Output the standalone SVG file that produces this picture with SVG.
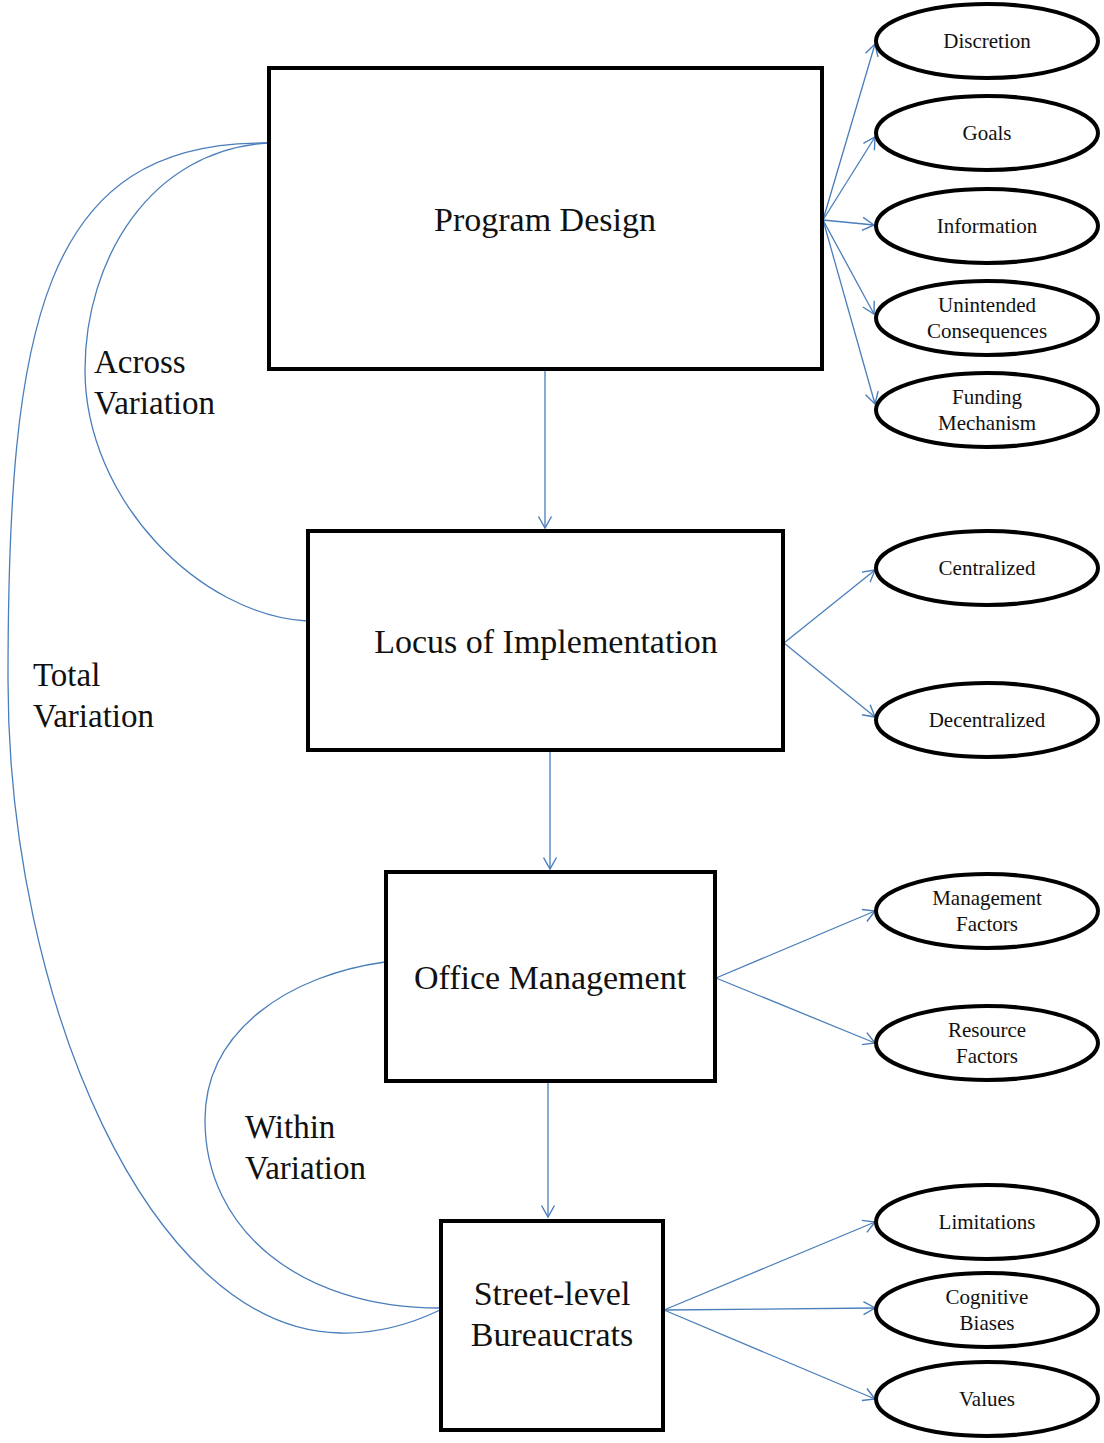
<svg xmlns="http://www.w3.org/2000/svg" width="1104" height="1443" viewBox="0 0 1104 1443">
<style>
.box{fill:#fff;stroke:#000;stroke-width:4}
.ell{fill:#fff;stroke:#000;stroke-width:4}
.bt{font-family:"Liberation Serif","Times New Roman",serif;font-size:34px;fill:#111;text-anchor:middle}
.et{font-family:"Liberation Serif","Times New Roman",serif;font-size:21px;fill:#111;text-anchor:middle}
.lt{font-family:"Liberation Serif","Times New Roman",serif;font-size:33px;fill:#111}
.c{fill:none;stroke:#4A7EBB;stroke-width:1.3}
.a{marker-end:url(#ah)}
</style>
<defs>
<marker id="ah" viewBox="0 0 14 16" refX="12.5" refY="8" markerWidth="14" markerHeight="16" markerUnits="userSpaceOnUse" orient="auto">
<path d="M1,1.5 L12.5,8 L1,14.5" fill="none" stroke="#4A7EBB" stroke-width="1.4"/>
</marker>
</defs>
<rect width="1104" height="1443" fill="#fff"/>
<g id="connectors">
<path class="c a" d="M545,370 L545,528"/>
<path class="c a" d="M550,751 L550,869"/>
<path class="c a" d="M548,1082 L548,1217"/>
<path class="c a" d="M823,220 L875,44"/>
<path class="c a" d="M823,220 L875,137"/>
<path class="c a" d="M823,220 L874,225"/>
<path class="c a" d="M823,220 L874,314"/>
<path class="c a" d="M823,220 L875,404"/>
<path class="c a" d="M784,643 L875,570"/>
<path class="c a" d="M784,643 L875,717"/>
<path class="c a" d="M716,978 L875,911"/>
<path class="c a" d="M716,978 L875,1043"/>
<path class="c a" d="M664,1310 L875,1222"/>
<path class="c a" d="M664,1310 L875,1308"/>
<path class="c a" d="M664,1310 L875,1399"/>
<path class="c" d="M268,143 C150,150 85,260 85,370 C85,500 200,615 307,621"/>
<path class="c" d="M268,143 C40,140 8,330 8,680 C8,1000 150,1330 340,1333 C380,1334 415,1322 440,1310"/>
<path class="c" d="M385,962 C290,975 205,1030 205,1120 C205,1230 300,1308 440,1308"/>
</g>
<g id="n-program-design"><rect class="box" x="269" y="68" width="553" height="301"/><text class="bt" x="545" y="231">Program Design</text></g>
<g id="n-locus"><rect class="box" x="308" y="531" width="475" height="219"/><text class="bt" x="546" y="653">Locus of Implementation</text></g>
<g id="n-office"><rect class="box" x="386" y="872" width="329" height="209"/><text class="bt" x="550" y="989">Office Management</text></g>
<g id="n-street"><rect class="box" x="441" y="1221" width="222" height="209"/><text class="bt" x="552" y="1305">Street-level</text><text class="bt" x="552" y="1346">Bureaucrats</text></g>
<g id="n-discretion"><ellipse class="ell" cx="987" cy="41" rx="111" ry="37"/><text class="et" x="987" y="48">Discretion</text></g>
<g id="n-goals"><ellipse class="ell" cx="987" cy="133" rx="111" ry="37"/><text class="et" x="987" y="140">Goals</text></g>
<g id="n-information"><ellipse class="ell" cx="987" cy="226" rx="111" ry="37"/><text class="et" x="987" y="233">Information</text></g>
<g id="n-unintended"><ellipse class="ell" cx="987" cy="318" rx="111" ry="37"/><text class="et" x="987" y="312">Unintended</text><text class="et" x="987" y="338">Consequences</text></g>
<g id="n-funding"><ellipse class="ell" cx="987" cy="410" rx="111" ry="37"/><text class="et" x="987" y="404">Funding</text><text class="et" x="987" y="430">Mechanism</text></g>
<g id="n-centralized"><ellipse class="ell" cx="987" cy="568" rx="111" ry="37"/><text class="et" x="987" y="575">Centralized</text></g>
<g id="n-decentralized"><ellipse class="ell" cx="987" cy="720" rx="111" ry="37"/><text class="et" x="987" y="727">Decentralized</text></g>
<g id="n-management"><ellipse class="ell" cx="987" cy="911" rx="111" ry="37"/><text class="et" x="987" y="905">Management</text><text class="et" x="987" y="931">Factors</text></g>
<g id="n-resource"><ellipse class="ell" cx="987" cy="1043" rx="111" ry="37"/><text class="et" x="987" y="1037">Resource</text><text class="et" x="987" y="1063">Factors</text></g>
<g id="n-limitations"><ellipse class="ell" cx="987" cy="1222" rx="111" ry="37"/><text class="et" x="987" y="1229">Limitations</text></g>
<g id="n-cognitive"><ellipse class="ell" cx="987" cy="1310" rx="111" ry="37"/><text class="et" x="987" y="1304">Cognitive</text><text class="et" x="987" y="1330">Biases</text></g>
<g id="n-values"><ellipse class="ell" cx="987" cy="1399" rx="111" ry="37"/><text class="et" x="987" y="1406">Values</text></g>
<g id="labels">
<text class="lt" x="94" y="373">Across</text><text class="lt" x="94" y="414">Variation</text>
<text class="lt" x="33" y="686">Total</text><text class="lt" x="33" y="727">Variation</text>
<text class="lt" x="245" y="1138">Within</text><text class="lt" x="245" y="1179">Variation</text>
</g>
</svg>
